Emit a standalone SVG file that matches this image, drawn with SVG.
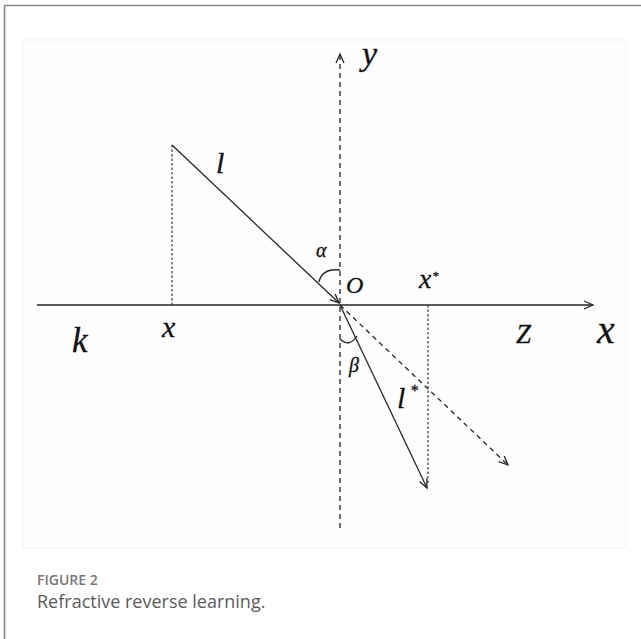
<svg xmlns="http://www.w3.org/2000/svg" width="641" height="639" viewBox="0 0 641 639">
  <style>
    .ln { stroke: #262626; stroke-width: 1.3; fill: none; }
    .dash { stroke-dasharray: 5 4; }
    .dot { stroke-dasharray: 2.5 2; stroke-width: 1.1; }
    .lab { font-family: "Liberation Serif", "Times New Roman", serif; font-style: italic; fill: #111111; stroke: #111111; stroke-width: 0.3; }
    .cap1 { font-family: "Open Sans", "Liberation Sans", sans-serif; font-size: 14px; font-weight: 600; fill: #777777; }
    .cap2 { font-family: "Open Sans", "Liberation Sans", sans-serif; font-size: 18px; fill: #5a5a5a; }
  </style>
  <defs>
    <marker id="open" markerUnits="userSpaceOnUse" markerWidth="14" markerHeight="12" refX="10" refY="5" orient="auto">
      <path d="M1,1 L10,5 L1,9" fill="none" stroke="#262626" stroke-width="1.3"/>
    </marker>
  </defs>

  <rect x="0" y="0" width="641" height="639" fill="#ffffff"/>
  <g id="frame">
    <path d="M4.5,639 L4.5,5.5 L641,5.5" fill="none" stroke="#8a8a8a" stroke-width="1.6"/>
  </g>
  <g id="panel">
    <rect x="23" y="40" width="603" height="508" fill="#fdfdfd" stroke="#f2f2f2" stroke-width="1"/>
  </g>

  <g id="connectors">
    <line id="x-axis" class="ln" x1="37" y1="305" x2="593" y2="305" marker-end="url(#open)"/>
    <line id="y-axis" class="ln dash" x1="340" y1="528" x2="340" y2="54" marker-end="url(#open)"/>
    <line id="ray-l" class="ln" x1="172" y1="145" x2="339" y2="303" marker-end="url(#open)"/>
    <line id="ray-l-star" class="ln" x1="340" y1="305" x2="427" y2="488" marker-end="url(#open)"/>
    <line id="ray-extension" class="ln dash" x1="340" y1="305" x2="508" y2="465" marker-end="url(#open)"/>
    <line id="drop-x" class="ln dot" x1="172" y1="145" x2="172" y2="305"/>
    <line id="drop-x-star" class="ln dot" x1="428" y1="305" x2="428" y2="484"/>
    <path id="arc-alpha" class="ln" d="M319,282 Q322,268 340,270"/>
    <path id="arc-beta" class="ln" d="M340,339 Q349,348 357,336"/>
  </g>

  <g id="labels">
    <g id="label-y"><text class="lab" x="362" y="65" font-size="34">y</text></g>
    <g id="label-l"><text class="lab" x="216" y="173" font-size="30">l</text></g>
    <g id="label-alpha"><text class="lab" x="316" y="257" font-size="20">α</text></g>
    <g id="label-O"><text class="lab" x="346" y="293" font-size="24">O</text></g>
    <g id="label-xstar"><text class="lab" x="419" y="288" font-size="28">x</text><text class="lab" x="432" y="280" font-size="13">*</text></g>
    <g id="label-x"><text class="lab" x="162" y="337" font-size="30">x</text></g>
    <g id="label-k"><text class="lab" x="72" y="352" font-size="35">k</text></g>
    <g id="label-Z"><text class="lab" x="516" y="343" font-size="27">Z</text></g>
    <g id="label-x-axis"><text class="lab" x="597" y="343" font-size="40">x</text></g>
    <g id="label-beta"><text class="lab" x="349" y="372" font-size="20">β</text></g>
    <g id="label-lstar"><text class="lab" x="397" y="408" font-size="30">l</text><text class="lab" x="410" y="396" font-size="16">*</text></g>
  </g>

  <g id="caption">
    <text class="cap1" x="37" y="585">FIGURE 2</text>
    <text class="cap2" x="37" y="608">Refractive reverse learning.</text>
  </g>
</svg>
